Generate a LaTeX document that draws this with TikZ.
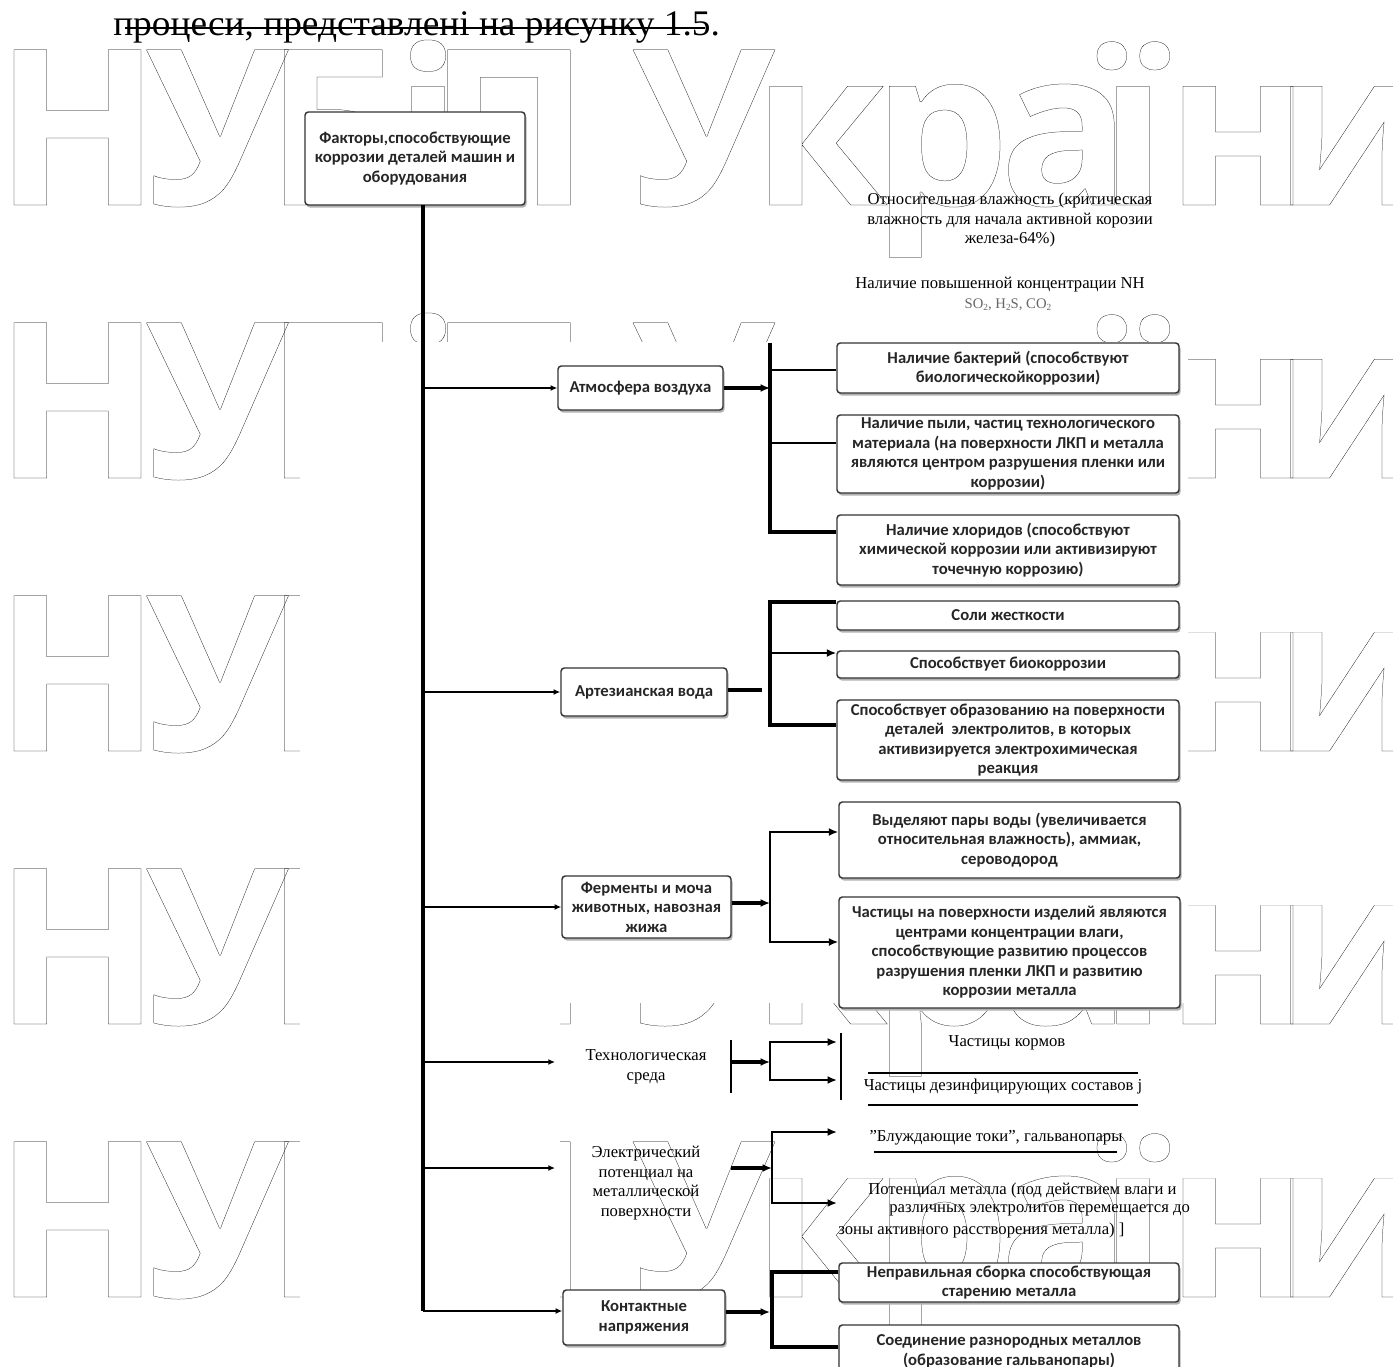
\documentclass[tikz,border=0pt]{standalone}
\usepackage{fontspec}
\usepackage{graphicx}
\setmainfont{Liberation Serif}
\newfontfamily\cbfont{Carlito}
\newfontfamily\wmfont{Open Sans}
\usetikzlibrary{arrows.meta}
\newcommand\olt[1]{\special{pdf:literal direct 1 Tr 0.18 w 0 G}#1\special{pdf:literal direct 0 Tr}}
\tikzset{
  boxst/.style={draw=black!80, line width=1.1pt, rounded corners=2.5pt, fill=white, inner sep=0pt, align=center, text=black!85, font=\cbfont\bfseries\fontsize{12.5}{14.6}\selectfont},
  tms/.style={inner sep=0pt, align=center, font=\fontsize{12.5}{14.6}\selectfont},
  wmst/.style={inner sep=0pt, anchor=base, text=black, font=\wmfont\bfseries\fontsize{163}{163}\selectfont},
  trunk/.style={line width=2.3pt},
  brl/.style={line width=1.6pt, -{Latex[length=5pt,width=4.5pt]}},
  ex/.style={line width=2.3pt, -{Latex[length=7pt,width=6pt]}},
  brk/.style={line width=2.3pt, line join=miter},
  lv3/.style={line width=2pt},
  lv3a/.style={line width=2pt, -{Latex[length=7pt,width=6pt]}},
  lv3aa/.style={line width=2pt, {Latex[length=7pt,width=6pt]}-{Latex[length=7pt,width=6pt]}, line join=miter},
  thinl/.style={line width=0.8pt},
  rule/.style={line width=1.2pt},
}
\newcommand\bxsh[6]{%
  \fill[black!30, rounded corners=2.5pt] (#2+1.5,#3+2.5) rectangle (#4+1.5,#5+2.5);
  \pgfmathsetmacro\bxcx{(#2+#4)/2}%
  \pgfmathsetmacro\bxcy{(#3+#5)/2}%
  \pgfmathsetmacro\bxw{(#4-#2)*0.75}%
  \pgfmathsetmacro\bxh{(#5-#3)*0.75}%
  \node[boxst, minimum width=\bxw pt, minimum height=\bxh pt] (#1) at (\bxcx,\bxcy) {#6};}
\newcommand\wmrow[2]{%
  \foreach \g/\gx [count=\j] in {Н/77.5,У/217.5,Б/334,і/428,П/509,У/704,к/820,р/941,а/1065,ї/1133,н/1238,и/1352} {%
    \node[wmst] (wm#1g\j) at (\gx,#2) {\olt{\g}};}}
\begin{document}
\begin{tikzpicture}[x=0.75pt,y=-0.75pt]
\useasboundingbox (0,0) rectangle (1393,1367);
\fill[white] (0,0) rectangle (1393,1367);
% watermark
\wmrow{a}{205}
\wmrow{b}{478}
\wmrow{c}{751}
\wmrow{d}{1024}
\wmrow{e}{1297}
% covers of the embedded picture
\fill[white] (300,342) rectangle (1188,1003);
\fill[white] (300,1003) rectangle (560,1298);
% top line
\node[inner sep=0pt, anchor=base west] (hdr) at (113,36) {\resizebox{455pt}{\height}{\fontsize{27}{27}\selectfont процеси, представлені на рисунку 1.5.}};
\coordinate (stA) at (125,28);
\coordinate (stB) at (705,28);
\draw[rule] (stA) -- (stB);
% top box
\bxsh{top}{305}{112}{525}{205}{Факторы,способствующие\\коррозии деталей машин и\\оборудования}
% trunk
\coordinate (trTop) at (423,205);
\coordinate (trBot) at (423,1311);
\draw[trunk] (trTop) -- (trBot);
% level 2
\bxsh{atm}{558}{366}{723}{410}{Атмосфера воздуха}
\bxsh{art}{561}{668}{727}{716}{Артезианская вода}
\bxsh{fer}{562}{876}{731}{938}{Ферменты и моча\\животных, навозная\\жижа}
\bxsh{kon}{563}{1290}{725}{1345}{Контактные\\напряжения}
\node[tms] (tech) at (646,1067) {Технологическая\\среда};
\node[tms] (el) at (646,1183) {Электрический\\потенциал на\\металлической\\поверхности};
\coordinate (techL) at (555,1062);
\coordinate (elL) at (555,1168);
% trunk branches
\draw[brl] (trTop |- atm.west) -- (atm.west);
\draw[brl] (trTop |- art.west) -- (art.west);
\draw[brl] (trTop |- fer.west) -- (fer.west);
\draw[brl] (trTop |- techL) -- (techL);
\draw[brl] (trTop |- elL) -- (elL);
\draw[brl] (trBot) -- (trBot -| kon.west);
% level 3 boxes
\bxsh{b1}{837}{343}{1179}{393}{Наличие бактерий (способствуют\\биологическойкоррозии)}
\bxsh{b2}{837}{415}{1179}{493}{Наличие пыли, частиц технологического\\материала (на поверхности ЛКП и металла\\являются центром разрушения пленки или\\коррозии)}
\bxsh{b3}{837}{515}{1179}{585}{Наличие хлоридов (способствуют\\химической коррозии или активизируют\\точечную коррозию)}
\bxsh{c1}{837}{601}{1179}{630}{Соли жесткости}
\bxsh{c2}{837}{651}{1179}{678}{Способствует биокоррозии}
\bxsh{c3}{837}{700}{1179}{780}{Способствует образованию на поверхности\\деталей\ \ электролитов, в которых\\активизируется электрохимическая\\реакция}
\bxsh{d1}{839}{802}{1180}{878}{Выделяют пары воды (увеличивается\\относительная влажность), аммиак,\\сероводород}
\bxsh{d2}{839}{897}{1180}{1008}{Частицы на поверхности изделий являются\\центрами концентрации влаги,\\способствующие развитию процессов\\разрушения пленки ЛКП и развитию\\коррозии металла}
\bxsh{k1}{839}{1263}{1179}{1302}{Неправильная сборка способствующая\\старению металла}
\bxsh{k2}{839}{1325}{1179}{1378}{Соединение разнородных металлов\\(образование гальванопары)}
% atm bracket
\coordinate (atmJ) at (770,388);
\coordinate (atmT) at (770,343);
\coordinate (atm1) at (770,370);
\coordinate (atm2) at (770,443);
\coordinate (atm3) at (770,532);
\draw[ex] (atm.east |- atmJ) -- (atmJ);
\draw[brk] (atmT) -- (atm3) -- (atm3 -| b3.west);
\draw[lv3] (atm1) -- (atm1 -| b1.west);
\draw[lv3] (atm2) -- (atm2 -| b2.west);
% art bracket
\coordinate (artJ) at (762,690);
\coordinate (artT) at (770,602);
\coordinate (artM) at (770,653);
\coordinate (artB) at (770,725);
\draw[brk] (art.east |- artJ) -- (artJ);
\draw[brk] (artT -| c1.west) -- (artT) -- (artB) -- (artB -| c3.west);
\draw[lv3a] (artM) -- (artM -| c2.west);
% fer bracket
\coordinate (ferJ) at (770,903);
\coordinate (ferT) at (770,832);
\coordinate (ferB) at (770,942);
\draw[ex] (fer.east |- ferJ) -- (ferJ);
\draw[lv3aa] (ferT -| d1.west) -- (ferT) -- (ferB) -- (ferB -| d2.west);
% tech bracket
\coordinate (techV1) at (731,1040);
\coordinate (techV2) at (731,1093);
\coordinate (techS) at (731,1062);
\coordinate (techJ) at (770,1062);
\coordinate (techT) at (770,1042);
\coordinate (techB) at (770,1080);
\coordinate (techE1) at (837,1042);
\coordinate (techE2) at (837,1080);
\draw[thinl] (techV1) -- (techV2);
\draw[ex] (techS) -- (techJ);
\draw[lv3aa] (techE1) -- (techT) -- (techB) -- (techE2);
% el bracket
\coordinate (elS) at (731,1168);
\coordinate (elJ) at (772,1168);
\coordinate (elT) at (772,1132);
\coordinate (elB) at (772,1203);
\coordinate (elE1) at (837,1132);
\coordinate (elE2) at (837,1203);
\draw[ex] (elS) -- (elJ);
\draw[lv3aa] (elE1) -- (elT) -- (elB) -- (elE2);
% kon bracket
\coordinate (konJ) at (770,1312);
\coordinate (konT) at (772,1272);
\coordinate (konB) at (772,1347);
\draw[ex] (kon.east |- konJ) -- (konJ);
\draw[brk] (konT -| k1.west) -- (konT) -- (konB) -- (konB -| k2.west);
% plain texts
\node[tms] (rel) at (1010,220) {Относительная влажность (критическая\\влажность для начала активной корозии\\железа-64\%)};
\node[tms] (nh) at (1000,285) {Наличие повышенной концентрации NH};
\node[tms, text=black!60, font=\fontsize{11}{13}\selectfont] (so) at (1008,305) {SO{\fontsize{7}{7}\selectfont\raisebox{-1.5pt}{2}}, H{\fontsize{7}{7}\selectfont\raisebox{-1.5pt}{2}}S, CO{\fontsize{7}{7}\selectfont\raisebox{-1.5pt}{2}}};
\node[tms] (korm) at (1007,1043) {Частицы кормов};
\node[tms] (dez) at (1003,1087) {Частицы дезинфицирующих составов j};
\node[tms] (blu) at (996,1138) {"Блуждающие токи", гальванопары};
\node[tms, anchor=west] (pot1) at (868,1190) {Потенциал металла (под действием влаги и};
\node[tms, anchor=west] (pot2) at (889,1210) {различных электролитов перемещается до};
\node[tms, anchor=west] (pot3) at (838,1230) {зоны активного расстворения металла) ]};
\coordinate (r1a) at (868,1073); \coordinate (r1b) at (1138,1073);
\coordinate (r2a) at (868,1105); \coordinate (r2b) at (1138,1105);
\coordinate (u1a) at (874,1152); \coordinate (u1b) at (1117,1152);
\coordinate (v2a) at (841,1033); \coordinate (v2b) at (841,1100);
\draw[rule] (r1a) -- (r1b);
\draw[rule] (r2a) -- (r2b);
\draw[rule] (u1a) -- (u1b);
\draw[thinl] (v2a) -- (v2b);
\end{tikzpicture}
\end{document}
